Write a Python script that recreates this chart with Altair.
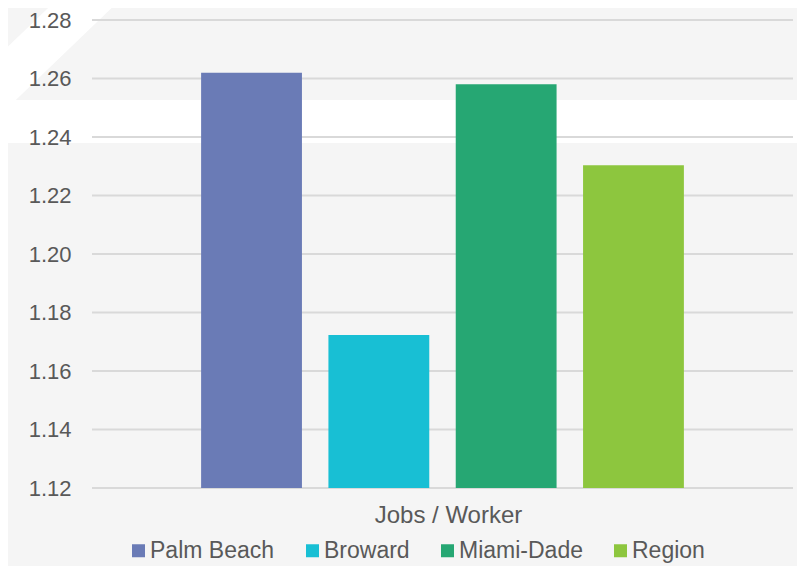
import altair as alt
import pandas as pd

counties = ["Palm Beach", "Broward", "Miami-Dade", "Region"]
values = [1.262, 1.1723, 1.258, 1.2303]
colors = ["#6a7bb6", "#18bfd4", "#26a773", "#8dc63e"]
tick_values = [1.12, 1.14, 1.16, 1.18, 1.20, 1.22, 1.24, 1.26, 1.28]
baseline = 1.12
category = "Jobs / Worker"

FONT = "Liberation Sans"
TEXT = "#595959"

df = pd.DataFrame({"county": counties, "value": values})
grid_df = pd.DataFrame({"v": tick_values})
one = pd.DataFrame({"k": [0]})

yscale = alt.Scale(domain=[tick_values[0], tick_values[-1]], zero=False, nice=False)
yaxis = alt.Axis(
    values=tick_values, format=".2f", grid=False, domain=False,
    ticks=False, labelPadding=21, title=None, labelFont=FONT,
    labelFontSize=22, labelColor=TEXT, zindex=1,
)

# decorative background shapes
band = alt.Chart(one).mark_rect(color="white").encode(
    x=alt.value(-100), x2=alt.value(720), y=alt.value(80), y2=alt.value(123)
)
strip = alt.Chart(one).mark_rule(color="white", strokeWidth=44).encode(
    x=alt.value(17), y=alt.value(-40), x2=alt.value(-134), y2=alt.value(105)
)

grid = alt.Chart(grid_df).mark_rule(color="#d9d9d9", strokeWidth=2).encode(
    y=alt.Y("v:Q", scale=yscale, axis=yaxis)
)

bars = alt.Chart(df).mark_bar().encode(
    x=alt.X(
        "county:N",
        sort=counties,
        scale=alt.Scale(paddingInner=0.208, paddingOuter=0.857),
        axis=alt.Axis(
            labels=False, ticks=False, domain=False, title=category,
            titleFont=FONT, titleFontSize=24, titleFontWeight="normal",
            titleColor=TEXT, titlePadding=15, titleX=356, zindex=1,
        ),
    ),
    y=alt.Y("value:Q", scale=yscale, axis=yaxis),
    y2=alt.datum(baseline),
    color=alt.Color(
        "county:N",
        sort=counties,
        scale=alt.Scale(domain=counties, range=colors),
        legend=alt.Legend(
            orient="none", direction="horizontal", legendX=35, legendY=519,
            title=None, symbolType="square", symbolSize=169,
            symbolStrokeWidth=0, symbolOpacity=1, labelFont=FONT,
            labelFontSize=23, labelColor=TEXT, labelOffset=0,
            columnPadding=26, padding=0,
        ),
    ),
)

chart = (
    alt.layer(band, strip, grid, bars)
    .properties(
        width=701,
        height=468,
        background="#f5f5f5",
        padding={"left": 84, "top": 12, "right": 4, "bottom": 78},
        autosize=alt.AutoSizeParams(type="none"),
    )
    .configure_view(stroke=None)
)

chart.save("out.html", embed_options={"renderer": "svg", "actions": False})
